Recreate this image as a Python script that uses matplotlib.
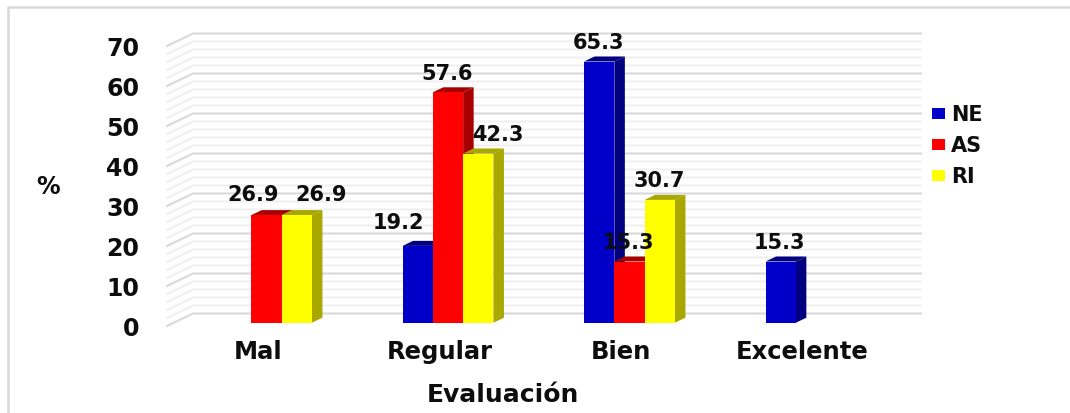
import matplotlib
matplotlib.use("Agg")
import matplotlib.pyplot as plt
from matplotlib.patches import Polygon, Patch
from matplotlib.lines import Line2D

# Survey results by evaluation level
categories = ["Mal", "Regular", "Bien", "Excelente"]
series_names = ["NE", "AS", "RI"]
ne_values = [None, 19.2, 65.3, 15.3]
as_values = [26.9, 57.6, 15.3, None]
ri_values = [26.9, 42.3, 30.7, None]
y_ticks = [0, 10, 20, 30, 40, 50, 60, 70]

face_colors = ["#0000C8", "#FF0000", "#FFFF00"]
side_colors = ["#000080", "#A80000", "#A8A800"]
text_color = "#0D0D0D"
font = "DejaVu Sans"

W, H = 1070, 413
fig = plt.figure(figsize=(W / 100, H / 100), dpi=100, facecolor="white")

# Axes span the front plane: value 0 at y=326 px, 4 px per percent
left_px, right_px = 167, 921
y0_px, y70_px = 326, 46
ax = fig.add_axes([left_px / W, 1 - y0_px / H, (right_px - left_px) / W, (y0_px - y70_px) / H])
cat_px = 181.5
first_px = 258
ax.set_xlim((left_px - first_px) / cat_px, (right_px - first_px) / cat_px)
ax.set_ylim(0, 70)
ax.patch.set_visible(False)
for s in ax.spines.values():
    s.set_visible(False)

px_x = 1 / cat_px
px_y = 1 / 4.0

# Receding wall: depth of the chart box
wall_dx = 26 * px_x
wall_dy = 12.5 * px_y
x_left, x_right = ax.get_xlim()
for v in range(0, 72, 2):
    col = "#D9D9D9" if v % 10 == 0 else "#F0F0F0"
    ax.plot([x_left, x_left + wall_dx, x_right], [v, v + wall_dy, v + wall_dy],
            color=col, lw=1.5, clip_on=False, zorder=1, solid_joinstyle="miter")

# Bars with a shaded top and side, standing slightly behind the front edge
bar_w = 30.3 * px_x
group_shift = 8.5 * px_x
base = 3.3 * px_y
depth_x = 10.5 * px_x
depth_y = 5 * px_y
all_series = [ne_values, as_values, ri_values]

for j, vals in enumerate(all_series):
    for i, v in enumerate(vals):
        if v is None:
            continue
        x0 = i + group_shift + (j - 1.5) * bar_w
        x1 = x0 + bar_w
        top = base + v
        z = 3 + j * 0.1
        ax.add_patch(Polygon([(x0, top), (x0 + depth_x, top + depth_y),
                              (x1 + depth_x, top + depth_y), (x1, top)],
                             closed=True, fc=side_colors[j], ec="none", zorder=z, clip_on=False))
        ax.add_patch(Polygon([(x1, base), (x1 + depth_x, base + depth_y),
                              (x1 + depth_x, top + depth_y), (x1, top)],
                             closed=True, fc=side_colors[j], ec="none", zorder=z, clip_on=False))
        ax.bar(x0, v, width=bar_w, bottom=base, align="edge", color=face_colors[j],
               zorder=z + 0.05, clip_on=False)

# Value labels, each nudged in pixels from the centre of its bar top
label_offsets = {
    (1, 0): (-13, 20), (2, 0): (24, 20),
    (0, 1): (-19, 23), (1, 1): (-1, 18), (2, 1): (20, 18.5),
    (0, 2): (-1, 18.5), (1, 2): (-1, 18.5), (2, 2): (-1, 19),
    (0, 3): (-1, 18.5),
}
for j, vals in enumerate(all_series):
    for i, v in enumerate(vals):
        if v is None:
            continue
        xc = i + group_shift + (j - 1) * bar_w
        ox, oy = label_offsets[(j, i)]
        ax.annotate(f"{v:.1f}", (xc, v + base), xytext=(ox, oy), textcoords="offset pixels",
                    ha="center", va="center", fontsize=15, fontweight="bold", color=text_color,
                    family=font, zorder=6, annotation_clip=False)

# Axis ticks and titles
ax.set_xticks(range(len(categories)))
ax.set_xticklabels(categories, fontsize=17.5, fontweight="bold", family=font, color=text_color)
ax.set_yticks(y_ticks)
ax.set_yticklabels([str(t) for t in y_ticks], fontsize=17, fontweight="bold", family=font, color=text_color)
ax.tick_params(axis="both", length=0)
ax.tick_params(axis="x", pad=10)
ax.tick_params(axis="y", pad=20)

fig.text(48 / W, 1 - 187 / H, "%", fontsize=17, fontweight="bold", family=font,
         ha="center", va="center", color=text_color)
fig.text(503 / W, 1 - 395 / H, "Evaluación", fontsize=18, fontweight="bold", family=font,
         ha="center", va="center", color=text_color)

# Legend
handles = [Patch(fc=c, ec="none") for c in face_colors]
fig.legend(handles, series_names, loc="upper left", bbox_to_anchor=(917.5 / W, 1 - 90 / H),
           frameon=False, prop={"family": font, "weight": "bold", "size": 15},
           handlelength=0.625, handleheight=0.45, handletextpad=0.29, labelspacing=0.54, borderpad=0.2,
           labelcolor=text_color)

# Outer frame: only the top and left edges show
fig.add_artist(Line2D([7.5 / W, 7.5 / W, 1], [0, 1 - 6.5 / H, 1 - 6.5 / H], color="#D9D9D9", lw=1.8,
                      transform=fig.transFigure))

fig.savefig("out.png", dpi=100)
